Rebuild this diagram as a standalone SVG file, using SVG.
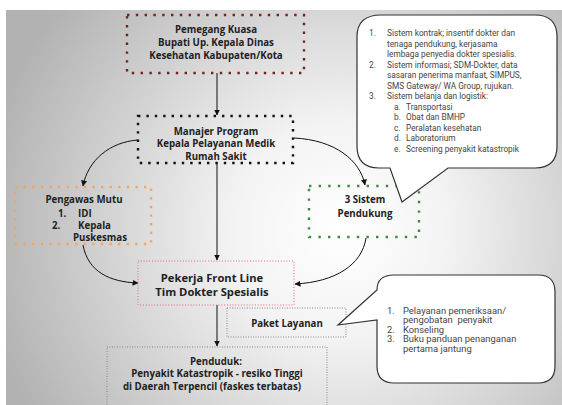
<svg xmlns="http://www.w3.org/2000/svg" width="562" height="405" viewBox="0 0 562 405">
<defs>
<radialGradient id="bg" gradientUnits="userSpaceOnUse" cx="340" cy="230" r="360">
<stop offset="0" stop-color="#ffffff"/>
<stop offset="0.3" stop-color="#f3f3f3"/>
<stop offset="1" stop-color="#b2b2b2"/>
</radialGradient>
<marker id="ah" markerUnits="userSpaceOnUse" markerWidth="6" markerHeight="6" refX="5.5" refY="3" orient="auto">
<path d="M0,0 L6,3 L0,6 z" fill="#111"/>
</marker>
<style>
.t{font-family:"Open Sans","DejaVu Sans",sans-serif;font-weight:700;fill:#222;font-size:9.7px;text-anchor:middle}
.tl{font-family:"Open Sans","DejaVu Sans",sans-serif;font-weight:700;fill:#222;font-size:9.7px}
.big{font-size:11.2px}
.b1{font-family:Roboto,"Liberation Sans",sans-serif;fill:#444;font-size:8.3px}
.b2{font-family:Roboto,"Liberation Sans",sans-serif;fill:#444;font-size:9.4px}
.c{fill:none;stroke:#111;stroke-width:1;marker-end:url(#ah)}
.bub{fill:#fff;stroke:#333;stroke-width:1.2}
</style>
</defs>
<rect width="562" height="405" fill="#fff"/>
<rect x="6" y="10" width="556" height="395" fill="url(#bg)"/>

<g id="connectors">
<path class="c" d="M217,73 V115"/>
<path class="c" d="M217,163 V260"/>
<path class="c" d="M217,305 V346"/>
<path class="c" d="M138,140 C110,142 88,160 83,186"/>
<path class="c" d="M294,138 C335,140 360,160 365,185"/>
<path class="c" d="M83,245 C88,272 110,282 138,283"/>
<path class="c" d="M366,238 C362,265 335,282 295,284"/>
</g>

<g id="pemegang-kuasa">
<rect x="127" y="15" width="177" height="58" fill="none" stroke="#7a1f1f" stroke-width="2.4" stroke-dasharray="2.4 6.4"/>
<text class="t" x="216" y="33">Pemegang Kuasa</text>
<text class="t" x="216" y="46">Bupati Up. Kepala Dinas</text>
<text class="t" x="216" y="59">Kesehatan Kabupaten/Kota</text>
</g>

<g id="manajer-program">
<rect x="138" y="116" width="155" height="47" fill="none" stroke="#111" stroke-width="2.4" stroke-dasharray="2.4 6"/>
<text class="t" x="216" y="134.5">Manajer Program</text>
<text class="t" x="216" y="147">Kepala Pelayanan Medik</text>
<text class="t" x="216" y="159.5">Rumah Sakit</text>
</g>

<g id="pengawas-mutu">
<rect x="15" y="187" width="136" height="57" fill="none" stroke="#f4a75a" stroke-width="2.4" stroke-dasharray="2.4 6.2"/>
<text class="t" x="84" y="202.5">Pengawas Mutu</text>
<text class="tl" x="58" y="216.5">1.</text>
<text class="tl" x="78" y="216.5">IDI</text>
<text class="tl" x="52" y="228.5">2.</text>
<text class="tl" x="78" y="228.5">Kepala</text>
<text class="tl" x="73" y="240.5">Puskesmas</text>
</g>

<g id="sistem-pendukung">
<rect x="309" y="186" width="110" height="51" fill="none" stroke="#3d8c3d" stroke-width="2.4" stroke-dasharray="2.4 7.2"/>
<text class="t" x="365" y="202.5">3 Sistem</text>
<text class="t" x="365" y="216.5">Pendukung</text>
</g>

<g id="pekerja-front-line">
<rect x="138" y="261" width="156" height="44" fill="none" stroke="#e36a6a" stroke-width="1" stroke-dasharray="1 1.8"/>
<text class="t big" x="212" y="281.5">Pekerja Front Line</text>
<text class="t big" x="212" y="296">Tim Dokter Spesialis</text>
</g>

<g id="paket-layanan">
<rect x="227" y="308" width="119" height="29" fill="none" stroke="#888" stroke-width="1" stroke-dasharray="1 1.5"/>
<text class="t" x="287" y="326.5">Paket Layanan</text>
</g>

<g id="penduduk">
<rect x="107" y="347" width="220" height="70" fill="none" stroke="#888" stroke-width="1" stroke-dasharray="1 1.5"/>
<text class="t" x="216" y="364.5">Penduduk:</text>
<text class="t" x="217" y="377">Penyakit Katastropik - resiko Tinggi</text>
<text class="t" x="212" y="390">di Daerah Terpencil (faskes terbatas)</text>
</g>

<g id="callout-sistem">
<path class="bub" d="M381,15 H535 Q557,15 557,37 V146 Q557,168 535,168 H448 L402,202 L390,168 H379 Q357,168 357,146 V37 Q357,15 381,15 Z"/>
<text class="b1" x="369" y="36">1.</text><text class="b1" x="387" y="36">Sistem kontrak; insentif dokter dan</text>
<text class="b1" x="387" y="46.5">tenaga pendukung, kerjasama</text>
<text class="b1" x="387" y="57">lembaga penyedia dokter spesialis.</text>
<text class="b1" x="369" y="67.5">2.</text><text class="b1" x="387" y="67.5">Sistem informasi; SDM-Dokter, data</text>
<text class="b1" x="387" y="78">sasaran penerima manfaat, SIMPUS,</text>
<text class="b1" x="387" y="88.5">SMS Gateway/ WA Group, rujukan.</text>
<text class="b1" x="369" y="99">3.</text><text class="b1" x="387" y="99">Sistem belanja dan logistik:</text>
<text class="b1" x="394" y="109.5">a.</text><text class="b1" x="406" y="109.5">Transportasi</text>
<text class="b1" x="394" y="120">b.</text><text class="b1" x="406" y="120">Obat dan BMHP</text>
<text class="b1" x="394" y="130.5">c.</text><text class="b1" x="406" y="130.5">Peralatan kesehatan</text>
<text class="b1" x="394" y="141">d.</text><text class="b1" x="406" y="141">Laboratorium</text>
<text class="b1" x="394" y="151.5">e.</text><text class="b1" x="406" y="151.5">Screening penyakit katastropik</text>
</g>

<g id="callout-paket">
<path class="bub" d="M394,275 H538 Q555,275 555,292 V366 Q555,383 538,383 H394 Q377,383 377,366 V320 L338,325 L377,290 Q377,275 394,275 Z"/>
<text class="b2" x="387" y="313.5">1.</text><text class="b2" x="403" y="313.5">Pelayanan pemeriksaan/</text>
<text class="b2" x="403" y="323" xml:space="preserve">pengobatan  penyakit</text>
<text class="b2" x="387" y="332.5">2.</text><text class="b2" x="403" y="332.5">Konseling</text>
<text class="b2" x="387" y="342">3.</text><text class="b2" x="403" y="342">Buku panduan penanganan</text>
<text class="b2" x="403" y="351.5">pertama jantung</text>
</g>
</svg>
